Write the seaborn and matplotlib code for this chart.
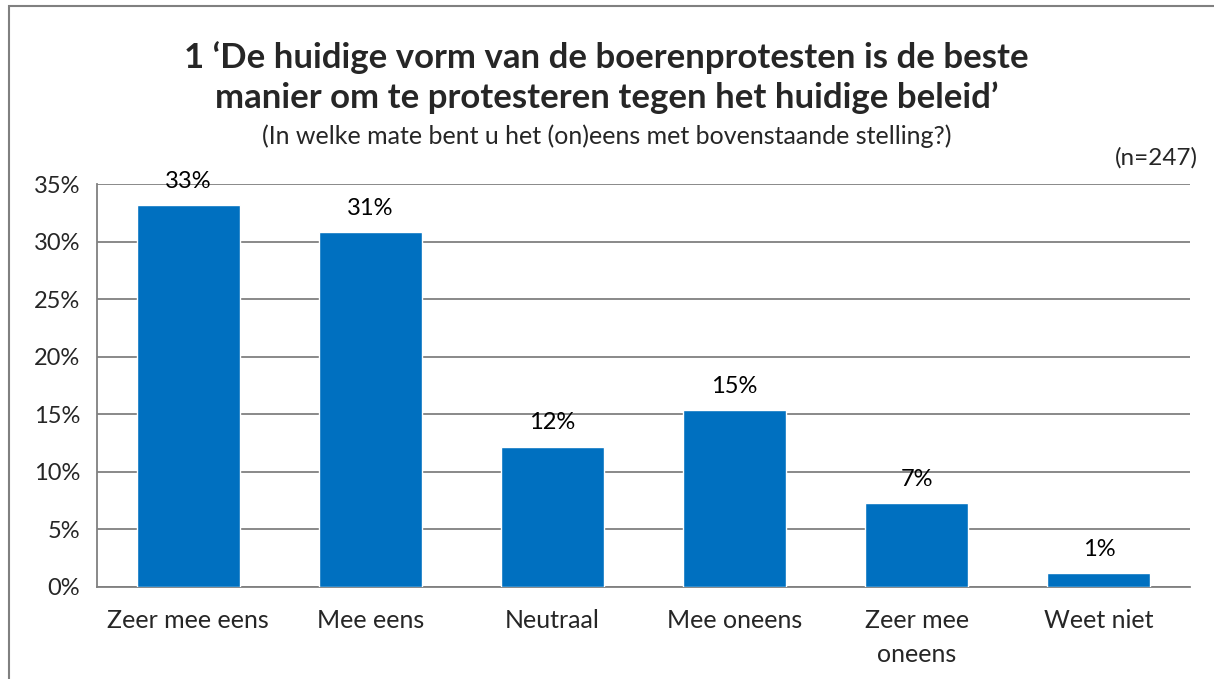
import matplotlib
matplotlib.use("Agg")
import matplotlib.pyplot as plt
from matplotlib.patches import Rectangle
from matplotlib.ticker import FixedLocator, PercentFormatter
import seaborn as sns
import pandas as pd

# Data
categories = ["Zeer mee eens", "Mee eens", "Neutraal", "Mee oneens", "Zeer mee\noneens", "Weet niet"]
values = [33.2, 30.8, 12.2, 15.4, 7.3, 1.2]
labels = ["33%", "31%", "12%", "15%", "7%", "1%"]

df = pd.DataFrame({"Antwoord": categories, "Percentage": values})

sns.set_style("white")
plt.rcParams["font.family"] = ["Lato", "DejaVu Sans"]

fig = plt.figure(figsize=(12.14, 6.79), dpi=100)
ax = fig.add_axes([0.0799, 0.1355, 0.9003, 0.5935])

grey = "#808080"
sns.barplot(data=df, x="Antwoord", y="Percentage", color="#0070C0",
            width=0.566, saturation=1, ax=ax, zorder=3)

# data labels above bars
for i, (v, lab) in enumerate(zip(values, labels)):
    ax.annotate(lab, (i, v), xytext=(0, 17), textcoords="offset points",
                ha="center", va="center", fontsize=17, color="black",
                annotation_clip=False)

ax.set_ylim(0, 35)
ax.set_xlim(-0.5, 5.5)
ax.set_yticks(range(0, 36, 5))
ax.yaxis.set_major_formatter(PercentFormatter(decimals=0))
ax.grid(axis="y", color=grey, linewidth=1.3, zorder=0)
ax.set_axisbelow(True)

ax.xaxis.set_minor_locator(FixedLocator([x - 0.5 for x in range(7)]))
ax.tick_params(axis="x", which="major", length=0, pad=16, labelsize=18)
ax.tick_params(axis="x", which="minor", length=6, color=grey, width=1.3, direction="out")
ax.tick_params(axis="y", length=6, color=grey, width=1.3, direction="out", pad=6, labelsize=17)
ax.set_xticks(range(len(categories)))
ax.set_xticklabels(categories, linespacing=1.55)
ax.set_xlabel("")
ax.set_ylabel("")

for side in ["top", "right"]:
    ax.spines[side].set_visible(False)
for side in ["left", "bottom"]:
    ax.spines[side].set_color(grey)
    ax.spines[side].set_linewidth(1.3)

# titles
fig.text(0.4996, 0.9146, "1 \u2018De huidige vorm van de boerenprotesten is de beste",
         ha="center", va="center", fontsize=25, fontweight="bold")
fig.text(0.4996, 0.8557, "manier om te protesteren tegen het huidige beleid\u2019",
         ha="center", va="center", fontsize=25, fontweight="bold")
fig.text(0.4996, 0.800, "(In welke mate bent u het (on)eens met bovenstaande stelling?)",
         ha="center", va="center", fontsize=18)
fig.text(0.9868, 0.767, "(n=247)", ha="right", va="center", fontsize=17.5)

# chart border (cropped on right and bottom)
fig.patches.append(Rectangle((9 / 1214, -0.1), 1.2, 1 - 6 / 679 + 0.1,
                             transform=fig.transFigure, fill=False,
                             edgecolor=grey, linewidth=1.5))

fig.savefig("out.png", dpi=100)
